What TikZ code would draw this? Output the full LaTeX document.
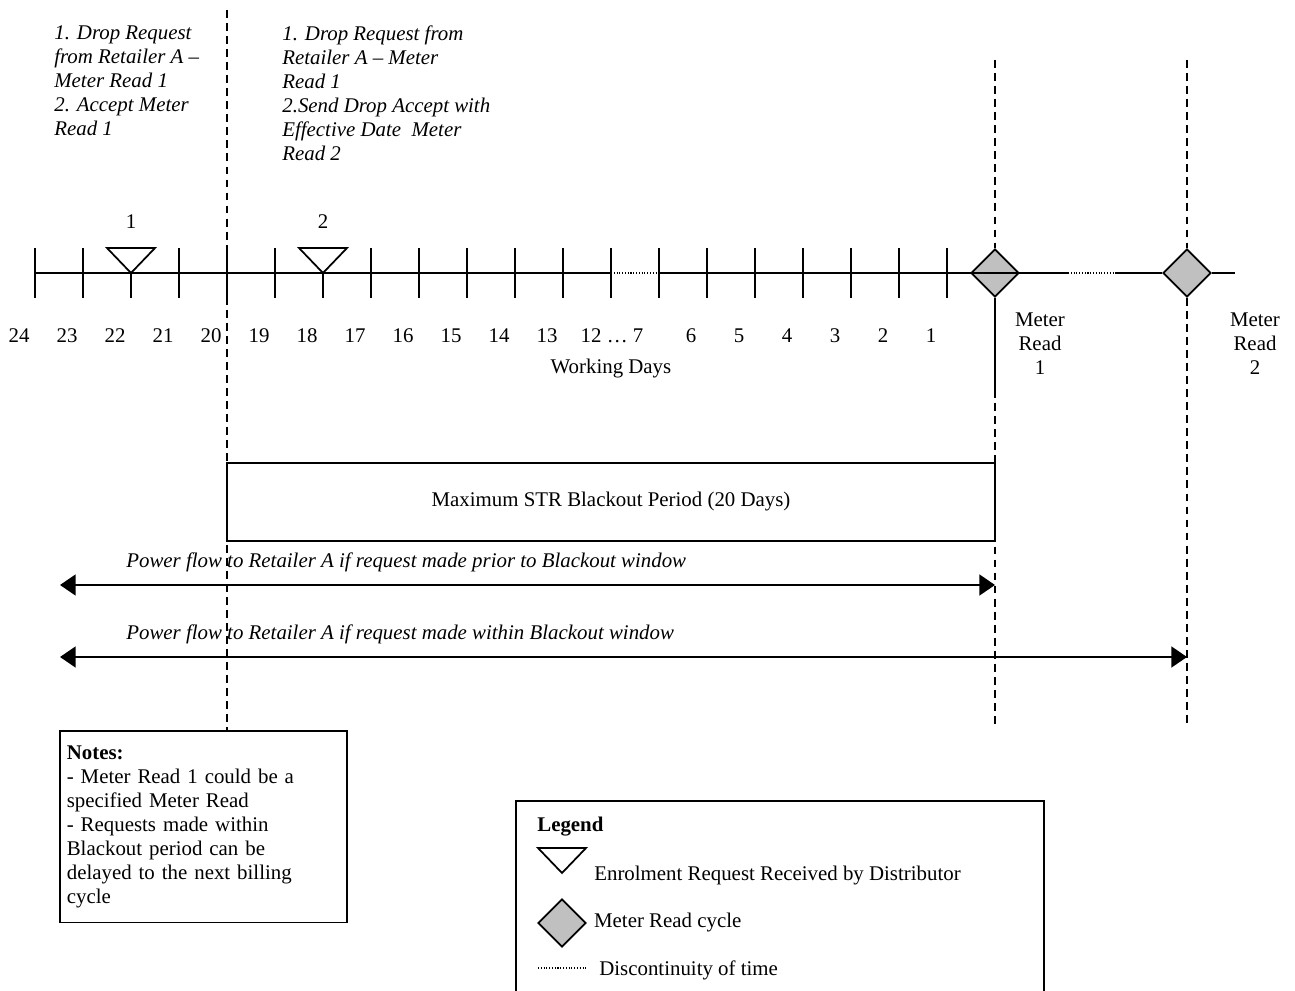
\documentclass[tikz,border=0pt]{standalone}
\usepackage{fontspec}
\setmainfont{Liberation Serif}
\usepackage{xcolor}
\usetikzlibrary{shapes.geometric, arrows.meta, positioning, calc}
\definecolor{readgray}{RGB}{192,192,192}

\begin{document}
\begin{tikzpicture}[
    x=0.575pt, y=-0.575pt,
    font=\fontsize{12}{13.8}\selectfont,
    axis/.style={line width=1.1pt},
    gapline/.style={line width=0.6pt, dash pattern=on 0.6pt off 1pt},
    guide/.style={line width=0.8pt, dash pattern=on 4.5pt off 3pt},
    readmark/.style={diamond, draw, line width=1pt, fill=readgray, aspect=1, inner sep=0pt, minimum width=27.6pt, minimum height=27.6pt},
    reqmark/.pic={\draw[line width=1pt, fill=white] (-24,-25) -- (24,-25) -- (0,0) -- cycle;},
    daylabel/.style={inner sep=0pt},
    note/.style={inner sep=0pt, align=left, anchor=north west, font=\fontsize{12}{13.8}\selectfont\itshape},
    flow/.style={{Triangle[length=9pt,width=12pt]}-{Triangle[length=9pt,width=12pt]}, line width=1.2pt},
    flowlabel/.style={inner sep=0pt, anchor=base west, font=\fontsize{12}{13.8}\selectfont\itshape},
]
\useasboundingbox (0,0) rectangle (1295,991);

% texts above the time line
\node[note] (req1txt) at (54,25) {1. Drop Request\\from Retailer A --\\Meter Read 1\\2. Accept Meter\\Read 1};
\node[note] (req2txt) at (282,25) {1. Drop Request from\\Retailer A -- Meter\\Read 1\\2.Send Drop Accept with\\Effective Date~ Meter\\Read 2};

% meter reads
\node[readmark] (mr1) at (995,273) {};
\node[readmark] (mr2) at (1187,273) {};

% time line
\draw[axis] (35,273) -- (611,273);
\draw[gapline] (611,273) -- (659,273);
\draw[axis] (659,273) -- (1068,273);
\draw[gapline] (1068,273) -- (1115,273);
\draw[axis] (1115,273) -- (mr2.west);
\draw[axis] (mr2.east) -- (1235,273);
\foreach \x in {35,83,...,611}
    \draw[axis] (\x,248) -- (\x,298);
\foreach \x in {659,707,...,947}
    \draw[axis] (\x,248) -- (\x,298);

% day numbers
\foreach \d [count=\i from 0] in {24,...,13}
    \node[daylabel] at ({19+48*\i},336) {\d};
\node[daylabel] (gap) at (612,336) {12 … 7};
\foreach \d [count=\i from 0] in {6,...,1}
    \node[daylabel] at ({691+48*\i},336) {\d};
\node[daylabel] (days) at (611,369) {Working Days};

% enrolment requests
\pic at (131,273) {reqmark};
\pic at (323,273) {reqmark};
\node[daylabel] (req1) at (131,222) {1};
\node[daylabel] (req2) at (323,222) {2};

\node[inner sep=0pt, align=center, anchor=north] (mr1txt) at (1040,312) {Meter\\Read\\1};
\node[inner sep=0pt, align=center, anchor=north] (mr2txt) at (1255,312) {Meter\\Read\\2};

% notes box
\node[draw, line width=1pt, anchor=north west, text width=157pt, inner xsep=4pt, inner ysep=8.5pt, align=left] (notes) at (59,730)
    {\textbf{Notes:}\\- Meter Read 1 could be a\\specified Meter Read\\- Requests made within\\Blackout period can be\\delayed to the next billing\\cycle};

% guide lines
\coordinate (botop) at (227,10);
\draw[guide] (botop) -- (botop |- notes.north);
\draw[guide] (995,60) -- (mr1.north);
\draw[axis, line width=0.8pt] (mr1.south) -- (995,390);
\draw[guide] (995,390) -- (995,725);
\draw[guide] (1187,60) -- (mr2.north);
\draw[guide] (mr2.south) -- (1187,725);

% blackout period
\node[draw, line width=1.2pt, fill=white, minimum width=441.6pt, minimum height=44.85pt, inner sep=0pt] (blackout) at (611,502)
    {Maximum STR Blackout Period (20 Days)};

% power flows
\coordinate (flow1) at (60,585);
\coordinate (flow2) at (60,657);
\draw[flow] (flow1) -- (flow1 -| mr1);
\draw[flow] (flow2) -- (flow2 -| mr2);
\node[flowlabel] (flow1txt) at (126,567) {Power flow to Retailer A if request made prior to Blackout window};
\node[flowlabel] (flow2txt) at (126,639) {Power flow to Retailer A if request made within Blackout window};

% legend
\node[draw, line width=1pt, anchor=north west, minimum width=303.6pt, minimum height=115pt] (legend) at (515,800) {};
\node[inner sep=0pt, anchor=base west] (legtitle) at (537,831) {\textbf{Legend}};
\pic at (562,873) {reqmark};
\node[inner sep=0pt, anchor=base west] (legreq) at (594,880) {Enrolment Request Received by Distributor};
\node[readmark] (legread) at (562,923) {};
\node[inner sep=0pt, anchor=west, right=4pt of legread] (legreadtxt) {Meter Read cycle};
\coordinate (leggap) at (538,968);
\draw[gapline] (leggap) -- ++(48,0);
\node[inner sep=0pt, anchor=base west] (leggaptxt) at (599,975) {Discontinuity of time};
\end{tikzpicture}
\end{document}
